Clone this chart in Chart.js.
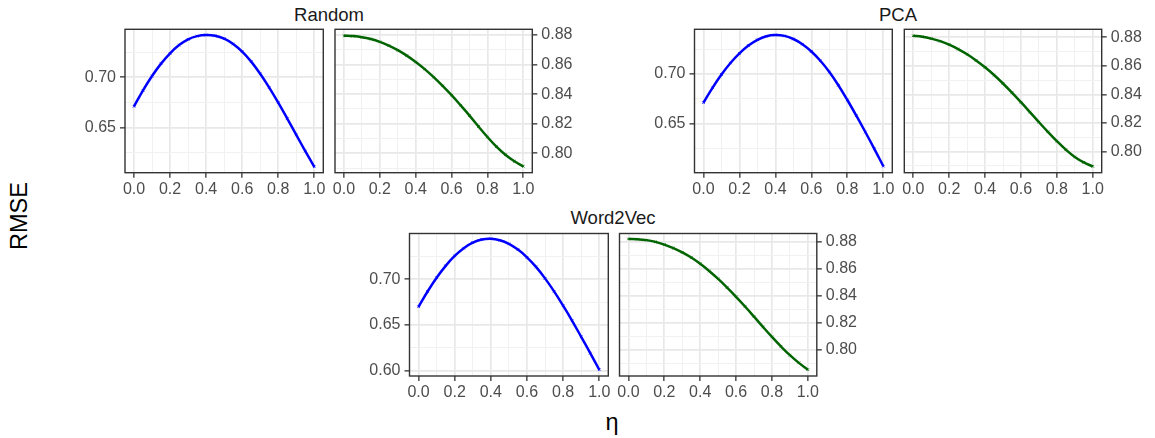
<!DOCTYPE html>
<html>
<head>
<meta charset="utf-8">
<script src="https://cdn.jsdelivr.net/npm/chart.js@4"></script>
<style>
  body { margin: 0; background: #fff; width: 1155px; height: 438px; overflow: hidden; position: relative; font-family: 'Liberation Sans', Arial, sans-serif; }
  canvas { position: absolute; left: 0; top: 0; }
  .strip { position: absolute; font-size: 18.5px; line-height: 19px; color: #1a1a1a; transform: translateX(-50%); white-space: nowrap; }
  .axis-title { position: absolute; font-size: 23.5px; line-height: 24px; color: #000; white-space: nowrap; }
</style>
</head>
<body>

<div class="strip" style="left:329px; top:5px;">Random</div>
<div class="strip" style="left:898px; top:5px;">PCA</div>
<div class="strip" style="left:613px; top:208px;">Word2Vec</div>
<div class="axis-title" style="left:19px; top:216px; transform: translate(-50%,-50%) rotate(-90deg);">RMSE</div>
<div class="axis-title" style="left:612px; top:410px; transform: translateX(-50%);">η</div>

<canvas id="randomLeft" width="1155" height="438"></canvas>
<canvas id="randomRight" width="1155" height="438"></canvas>
<canvas id="pcaLeft" width="1155" height="438"></canvas>
<canvas id="pcaRight" width="1155" height="438"></canvas>
<canvas id="w2vLeft" width="1155" height="438"></canvas>
<canvas id="w2vRight" width="1155" height="438"></canvas>

<script>
// eta values (x axis)
const etaValues = [0.00, 0.05, 0.10, 0.15, 0.20, 0.25, 0.30, 0.35, 0.40, 0.45, 0.50,
                   0.55, 0.60, 0.65, 0.70, 0.75, 0.80, 0.85, 0.90, 0.95, 1.00];

// RMSE, blue (left) and green (right) panels
const randomBlue = [0.6710, 0.6870, 0.7013, 0.7137, 0.7240, 0.7322, 0.7380, 0.7412, 0.7423, 0.7415, 0.7386,
                    0.7333, 0.7257, 0.7157, 0.7035, 0.6897, 0.6747, 0.6588, 0.6425, 0.6263, 0.6106];
const randomGreen = [0.8795, 0.8792, 0.8785, 0.8772, 0.8753, 0.8728, 0.8697, 0.8660, 0.8617, 0.8569, 0.8515,
                     0.8456, 0.8393, 0.8325, 0.8255, 0.8181, 0.8110, 0.8045, 0.7990, 0.7946, 0.7912];
const pcaBlue = [0.6713, 0.6862, 0.6995, 0.7110, 0.7206, 0.7284, 0.7342, 0.7378, 0.7390, 0.7381, 0.7350,
                 0.7298, 0.7225, 0.7132, 0.7020, 0.6888, 0.6740, 0.6583, 0.6420, 0.6252, 0.6078];
const pcaGreen = [0.8811, 0.8804, 0.8791, 0.8773, 0.8749, 0.8718, 0.8681, 0.8638, 0.8590, 0.8536, 0.8477,
                  0.8413, 0.8346, 0.8277, 0.8207, 0.8139, 0.8074, 0.8014, 0.7963, 0.7925, 0.7897];
const w2vBlue = [0.6698, 0.6865, 0.7015, 0.7145, 0.7253, 0.7338, 0.7398, 0.7432, 0.7440, 0.7424, 0.7385,
                 0.7322, 0.7238, 0.7133, 0.7008, 0.6866, 0.6710, 0.6545, 0.6370, 0.6192, 0.6010];
const w2vGreen = [0.8822, 0.8820, 0.8813, 0.8800, 0.8780, 0.8754, 0.8722, 0.8684, 0.8638, 0.8585, 0.8526,
                  0.8462, 0.8394, 0.8322, 0.8247, 0.8171, 0.8097, 0.8027, 0.7962, 0.7905, 0.7855];

// tick labels
const xMajorTicks = [0.0, 0.2, 0.4, 0.6, 0.8, 1.0];
const xMinorTicks = [0.1, 0.3, 0.5, 0.7, 0.9];
const blueMajorTicks = [0.60, 0.65, 0.70];
const blueMinorTicks = [0.625, 0.675, 0.725];
const greenMajorTicks = [0.80, 0.82, 0.84, 0.86, 0.88];
const greenMinorTicks = [0.79, 0.81, 0.83, 0.85, 0.87];

const FONT = "'Liberation Sans', Arial, sans-serif";
const PAGE_W = 1155, PAGE_H = 438;
const Y_AXIS_W = 60, X_AXIS_H = 40;

function isIn(list, v) {
    return list.some(t => Math.abs(t - v) < 1e-9);
}

// draw the dark panel frame like ggplot's theme_bw
const panelBorder = {
    id: 'panelBorder',
    afterDraw(chart) {
        const a = chart.chartArea;
        const ctx = chart.ctx;
        ctx.save();
        ctx.strokeStyle = '#333333';
        ctx.lineWidth = 1.4;
        ctx.strokeRect(a.left, a.top, a.right - a.left, a.bottom - a.top);
        ctx.restore();
    }
};

function gridScale(major, minor, lo, hi, digits) {
    return {
        min: lo,
        max: hi,
        afterBuildTicks: axis => {
            axis.ticks = major.concat(minor)
                .filter(v => v >= lo && v <= hi)
                .sort((a, b) => a - b)
                .map(v => ({ value: v }));
        },
        ticks: {
            autoSkip: false,
            maxRotation: 0,
            color: '#4d4d4d',
            font: { family: FONT, size: 16 },
            padding: 2,
            callback: v => isIn(major, v) ? Number(v).toFixed(digits) : ''
        },
        grid: {
            drawTicks: true,
            tickLength: 5,
            color: c => isIn(major, c.tick.value) ? '#e8e8e8' : '#f1f1f1',
            lineWidth: c => isIn(major, c.tick.value) ? 1.7 : 1,
            tickColor: c => isIn(major, c.tick.value) ? '#333333' : 'rgba(0,0,0,0)',
            tickWidth: 1.3
        },
        border: { display: false }
    };
}

function makePanel(id, box, values, color, side, yLo, yHi, yMajor, yMinor) {
    const xScale = gridScale(xMajorTicks, xMinorTicks, -0.05, 1.05, 1);
    xScale.type = 'linear';
    xScale.position = 'bottom';
    xScale.afterFit = s => { s.height = X_AXIS_H; s.paddingLeft = 0; s.paddingRight = 0; };

    const yScale = gridScale(yMajor, yMinor, yLo, yHi, 2);
    yScale.position = side;
    yScale.ticks.padding = 4;
    yScale.afterFit = s => { s.width = Y_AXIS_W; s.paddingTop = 0; s.paddingBottom = 0; };

    const padding = {
        top: box.y0,
        bottom: PAGE_H - box.y1 - X_AXIS_H,
        left: side === 'left' ? box.x0 - Y_AXIS_W : box.x0,
        right: side === 'left' ? PAGE_W - box.x1 : PAGE_W - box.x1 - Y_AXIS_W
    };

    new Chart(document.getElementById(id), {
        type: 'line',
        data: {
            datasets: [{
                data: etaValues.map((x, i) => ({ x: x, y: values[i] })),
                borderColor: color,
                backgroundColor: color,
                borderWidth: 2.5,
                tension: 0.4,
                pointStyle: 'crossRot',
                pointRadius: 1.8,
                pointBorderWidth: 0.8,
                pointBorderColor: color,
                fill: false
            }]
        },
        options: {
            responsive: false,
            animation: false,
            devicePixelRatio: 1,
            layout: { padding: padding },
            plugins: { legend: { display: false }, tooltip: { enabled: false } },
            scales: { x: xScale, y: yScale }
        },
        plugins: [panelBorder]
    });
}

const topRow = { y0: 29.3, y1: 172.7 };
const bottomRow = { y0: 233.5, y1: 376 };

makePanel('randomLeft',  { x0: 125.0, x1: 323.3, ...topRow }, randomBlue,  '#0000ff', 'left',  0.6047, 0.7480, blueMajorTicks, blueMinorTicks);
makePanel('randomRight', { x0: 335.0, x1: 532.3, ...topRow }, randomGreen, '#006400', 'right', 0.7869, 0.8838, greenMajorTicks, greenMinorTicks);
makePanel('pcaLeft',     { x0: 694.5, x1: 892.3, ...topRow }, pcaBlue,     '#0000ff', 'left',  0.6013, 0.7447, blueMajorTicks, blueMinorTicks);
makePanel('pcaRight',    { x0: 904.3, x1: 1101.7, ...topRow }, pcaGreen,   '#006400', 'right', 0.7853, 0.8856, greenMajorTicks, greenMinorTicks);
makePanel('w2vLeft',     { x0: 409.5, x1: 608.3, ...bottomRow }, w2vBlue,  '#0000ff', 'left',  0.5942, 0.7498, blueMajorTicks, blueMinorTicks);
makePanel('w2vRight',    { x0: 619.5, x1: 816.8, ...bottomRow }, w2vGreen, '#006400', 'right', 0.7808, 0.8862, greenMajorTicks, greenMinorTicks);
</script>
</body>
</html>
